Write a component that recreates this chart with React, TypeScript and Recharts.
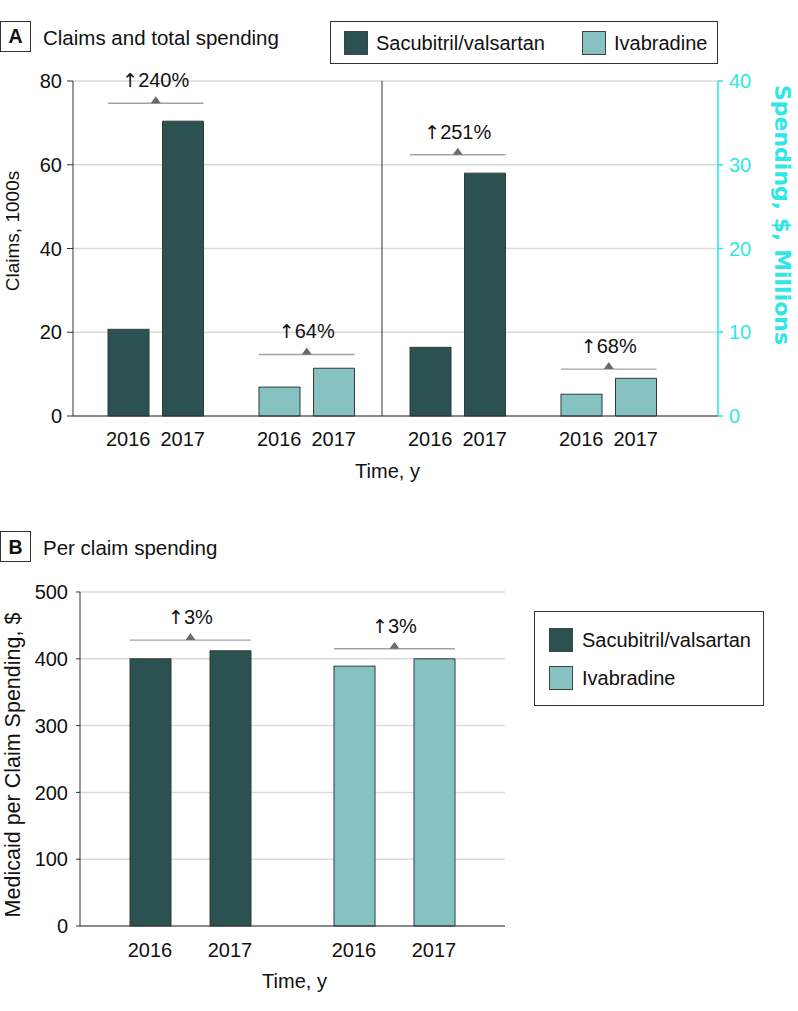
import React from 'react';
import { BarChart, Bar, XAxis, YAxis, CartesianGrid, Cell, ReferenceLine, Legend } from 'recharts';

// ---------- data ----------
const drugs = ['Sacubitril/valsartan', 'Ivabradine'];
const years = ['2016', '2017'];

const claims2016 = [20.7, 6.9]; // claims, 1000s
const claims2017 = [70.4, 11.4];
const claimsBracket = [74.7, 14.7];
const claimsChange = ['240%', '64%'];

const spending2016 = [8.2, 2.6]; // $ millions
const spending2017 = [29.0, 4.5];
const spendingBracket = [31.2, 5.6];
const spendingChange = ['251%', '68%'];

const perClaim2016 = [400, 389]; // $
const perClaim2017 = [412, 400];
const perClaimBracket = [428, 415];
const perClaimChange = ['3%', '3%'];

const claimsTicks = [0, 20, 40, 60, 80];
const spendingTicks = [0, 10, 20, 30, 40];
const perClaimTicks = [0, 100, 200, 300, 400, 500];

// ---------- styles ----------
const DARK = '#2b5150';
const LIGHT = '#86c2c1';
const CYAN = '#30e6e6';
const drugColors = [DARK, LIGHT];
const FONT = '"Liberation Sans", Arial, sans-serif';
const DEJAVU = '"DejaVu Sans", sans-serif';

const dataA = [
  ...drugs.map((d, i) => ({
    key: `claims-${i}`,
    drug: i,
    c16: claims2016[i],
    c17: claims2017[i],
    bracket: claimsBracket[i],
    change: claimsChange[i],
  })),
  ...drugs.map((d, i) => ({
    key: `spend-${i}`,
    drug: i,
    s16: spending2016[i],
    s17: spending2017[i],
    bracket: spendingBracket[i],
    change: spendingChange[i],
  })),
];

const dataB = drugs.map((d, i) => ({
  key: d,
  drug: i,
  p16: perClaim2016[i],
  p17: perClaim2017[i],
  bracket: perClaimBracket[i],
  change: perClaimChange[i],
}));

function makeBracketShape(valueKey: string, gap: number) {
  return (p: any) => {
    const { x, y, width, height, fill, payload } = p;
    const v = payload ? payload[valueKey] : null;
    if (v == null || !height || !width) return <g />;
    const base = y + height;
    const ppu = height / v;
    const by = base - payload.bracket * ppu;
    const left = x;
    const right = x + 2 * width + gap;
    const cx = (left + right) / 2;
    return (
      <g>
        <rect x={x} y={y} width={width} height={height} fill={fill} stroke="#2f3b3b" strokeWidth={1} />
        <line x1={left} x2={right} y1={by} y2={by} stroke="#a3a3a3" strokeWidth={1.4} />
        <path d={`M${cx - 5},${by} L${cx + 5},${by} L${cx},${by - 7} Z`} fill="#6b6b6b" />
        <text x={cx} y={by - 16} textAnchor="middle" fontSize={20} fontFamily={FONT} fill="#111">
          <tspan fontFamily={DEJAVU} fontSize={19}>{'\u2191'}</tspan>
          {payload.change}
        </text>
      </g>
    );
  };
}

function makePairTick(barSize: number, gap: number, dy: number) {
  return (p: any) => {
    const off = (barSize + gap) / 2;
    return (
      <g>
        {years.map((yr, k) => (
          <text
            key={yr}
            x={p.x + (k === 0 ? -off : off)}
            y={p.y + dy}
            textAnchor="middle"
            fontSize={20}
            fontFamily={FONT}
            fill="#111"
          >
            {yr}
          </text>
        ))}
      </g>
    );
  };
}

const Swatch = ({ color, left, top }: { color: string; left: number; top: number }) => (
  <div
    style={{
      position: 'absolute',
      left,
      top,
      width: 24,
      height: 24,
      boxSizing: 'border-box',
      background: color,
      border: '1px solid #3a4747',
    }}
  />
);

const LegendText = ({ text, left, top }: { text: string; left: number; top: number }) => (
  <div
    style={{
      position: 'absolute',
      left,
      top,
      height: 24,
      lineHeight: '24px',
      fontSize: 20,
      fontFamily: FONT,
      color: '#111',
      whiteSpace: 'nowrap',
    }}
  >
    {text}
  </div>
);

const LegendA = () => (
  <div
    style={{
      position: 'relative',
      width: 388,
      height: 43,
      boxSizing: 'border-box',
      border: '1px solid #333',
      background: '#fff',
    }}
  >
    <Swatch color={drugColors[0]} left={13} top={9} />
    <LegendText text={drugs[0]} left={45} top={9} />
    <Swatch color={drugColors[1]} left={251} top={9} />
    <LegendText text={drugs[1]} left={283} top={9} />
  </div>
);

const LegendB = () => (
  <div
    style={{
      position: 'relative',
      width: 230,
      height: 95,
      boxSizing: 'border-box',
      border: '1px solid #333',
      background: '#fff',
    }}
  >
    <Swatch color={drugColors[0]} left={14} top={16} />
    <LegendText text={drugs[0]} left={47} top={16} />
    <Swatch color={drugColors[1]} left={14} top={54} />
    <LegendText text={drugs[1]} left={47} top={54} />
  </div>
);

export default function App() {
  const gapA = 13.5;
  const gapB = 39;
  return (
    <div style={{ position: 'absolute', left: 0, top: 0, width: 798, height: 1011, background: '#fff' }}>
      <svg width={798} height={1011} style={{ position: 'absolute', left: 0, top: 0 }}>
        <rect x={0.5} y={21.5} width={30} height={30} fill="#fff" stroke="#333" />
        <text x={15.5} y={43.3} textAnchor="middle" fontWeight="bold" fontSize={19.5} fontFamily={FONT} fill="#111">
          A
        </text>
        <text x={43} y={44.5} fontSize={20.5} fontFamily={FONT} fill="#111">
          Claims and total spending
        </text>
        <rect x={0.5} y={531.5} width={30} height={30} fill="#fff" stroke="#333" />
        <text x={15.5} y={554.3} textAnchor="middle" fontWeight="bold" fontSize={19.5} fontFamily={FONT} fill="#111">
          B
        </text>
        <text x={43} y={555} fontSize={20.5} fontFamily={FONT} fill="#111">
          Per claim spending
        </text>
      </svg>

      <div style={{ position: 'absolute', left: 0, top: 0 }}>
        <BarChart
          width={798}
          height={492}
          data={dataA}
          margin={{ top: 81, right: 0, bottom: 0, left: 0 }}
          barSize={41}
          barGap={gapA}
        >
          <CartesianGrid yAxisId="left" vertical={false} stroke="#dadada" strokeWidth={1.5} />
          <XAxis
            dataKey="key"
            interval={0}
            height={76}
            padding={{ left: 7, right: 34 }}
            tickLine={false}
            tickSize={0}
            tickMargin={0}
            axisLine={{ stroke: '#333' }}
            tick={makePairTick(41, gapA, 30)}
            label={(p: any) => {
              const vb = p.viewBox || { x: 73, y: 416, width: 645 };
              return (
                <text x={vb.x + vb.width / 2 - 8} y={vb.y + 61.5} textAnchor="middle" fontSize={20} fontFamily={FONT} fill="#111">
                  Time, y
                </text>
              );
            }}
          />
          <YAxis
            yAxisId="left"
            domain={[0, 80]}
            ticks={claimsTicks}
            interval={0}
            width={73}
            tickSize={6}
            tickMargin={5}
            axisLine={{ stroke: '#333' }}
            tickLine={{ stroke: '#333' }}
            tick={{ fontSize: 20, fill: '#111', fontFamily: FONT }}
            label={(p: any) => {
              const vb = p.viewBox || { x: 0, y: 81 };
              const cx = vb.x + 12;
              const cy = vb.y + 150;
              return (
                <text
                  x={cx}
                  y={cy}
                  transform={`rotate(-90 ${cx} ${cy})`}
                  textAnchor="middle"
                  dominantBaseline="central"
                  fontSize={19}
                  fontFamily={FONT}
                  fill="#111"
                >
                  Claims, 1000s
                </text>
              );
            }}
          />
          <YAxis
            yAxisId="right"
            orientation="right"
            domain={[0, 40]}
            ticks={spendingTicks}
            interval={0}
            width={80}
            tickSize={5}
            tickMargin={6}
            axisLine={{ stroke: CYAN, strokeWidth: 1.6 }}
            tickLine={{ stroke: CYAN, strokeWidth: 1.6 }}
            tick={{ fontSize: 20, fill: CYAN, fontFamily: FONT }}
            label={(p: any) => {
              const vb = p.viewBox || { x: 718, y: 81 };
              const cx = vb.x + 64;
              const cy = vb.y + 134;
              return (
                <text
                  x={cx}
                  y={cy}
                  transform={`rotate(90 ${cx} ${cy})`}
                  textAnchor="middle"
                  dominantBaseline="central"
                  fontSize={22}
                  fontWeight="bold"
                  fontFamily={DEJAVU}
                  fill={CYAN}
                >
                  Spending, $, Millions
                </text>
              );
            }}
          />
          <ReferenceLine yAxisId="left" x="claims-1" position="end" stroke="#333" strokeWidth={1} />
          <Bar dataKey="c16" yAxisId="left" stackId="y16" isAnimationActive={false} shape={makeBracketShape('c16', gapA)}>
            {dataA.map((r) => (
              <Cell key={r.key} fill={drugColors[r.drug]} />
            ))}
          </Bar>
          <Bar dataKey="s16" yAxisId="right" stackId="y16" isAnimationActive={false} shape={makeBracketShape('s16', gapA)}>
            {dataA.map((r) => (
              <Cell key={r.key} fill={drugColors[r.drug]} />
            ))}
          </Bar>
          <Bar dataKey="c17" yAxisId="left" stackId="y17" isAnimationActive={false} stroke="#2f3b3b" strokeWidth={1}>
            {dataA.map((r) => (
              <Cell key={r.key} fill={drugColors[r.drug]} />
            ))}
          </Bar>
          <Bar dataKey="s17" yAxisId="right" stackId="y17" isAnimationActive={false} stroke="#2f3b3b" strokeWidth={1}>
            {dataA.map((r) => (
              <Cell key={r.key} fill={drugColors[r.drug]} />
            ))}
          </Bar>
          <Legend
            verticalAlign="middle"
            align="center"
            layout="horizontal"
            wrapperStyle={{ left: 330, top: 21, width: 388, height: 43 }}
            content={() => <LegendA />}
          />
        </BarChart>
      </div>

      <div style={{ position: 'absolute', left: 0, top: 520 }}>
        <BarChart
          width={798}
          height={491}
          data={dataB}
          margin={{ top: 72, right: 293, bottom: 15, left: 0 }}
          barSize={41}
          barGap={gapB}
        >
          <CartesianGrid vertical={false} stroke="#dadada" strokeWidth={1.5} />
          <XAxis
            dataKey="key"
            interval={0}
            height={70}
            padding={{ left: 8, right: 9 }}
            tickLine={false}
            tickSize={0}
            tickMargin={0}
            axisLine={{ stroke: '#333' }}
            tick={makePairTick(41, gapB, 30.5)}
            label={(p: any) => {
              const vb = p.viewBox || { x: 80, y: 406, width: 425 };
              return (
                <text x={vb.x + vb.width / 2 + 2} y={vb.y + 62} textAnchor="middle" fontSize={20} fontFamily={FONT} fill="#111">
                  Time, y
                </text>
              );
            }}
          />
          <YAxis
            domain={[0, 500]}
            ticks={perClaimTicks}
            interval={0}
            width={80}
            tickSize={4}
            tickMargin={8}
            axisLine={{ stroke: '#333' }}
            tickLine={{ stroke: '#333' }}
            tick={{ fontSize: 20, fill: '#111', fontFamily: FONT }}
            label={(p: any) => {
              const vb = p.viewBox || { x: 0, y: 72 };
              const cx = vb.x + 13;
              const cy = vb.y + 173;
              return (
                <text
                  x={cx}
                  y={cy}
                  transform={`rotate(-90 ${cx} ${cy})`}
                  textAnchor="middle"
                  dominantBaseline="central"
                  fontSize={21.5}
                  fontFamily={FONT}
                  fill="#111"
                >
                  Medicaid per Claim Spending, $
                </text>
              );
            }}
          />
          <Bar dataKey="p16" isAnimationActive={false} shape={makeBracketShape('p16', gapB)}>
            {dataB.map((r) => (
              <Cell key={r.key} fill={drugColors[r.drug]} />
            ))}
          </Bar>
          <Bar dataKey="p17" isAnimationActive={false} stroke="#2f3b3b" strokeWidth={1}>
            {dataB.map((r) => (
              <Cell key={r.key} fill={drugColors[r.drug]} />
            ))}
          </Bar>
          <Legend
            verticalAlign="middle"
            align="center"
            layout="horizontal"
            wrapperStyle={{ left: 534, top: 91, width: 230, height: 95 }}
            content={() => <LegendB />}
          />
        </BarChart>
      </div>
    </div>
  );
}
